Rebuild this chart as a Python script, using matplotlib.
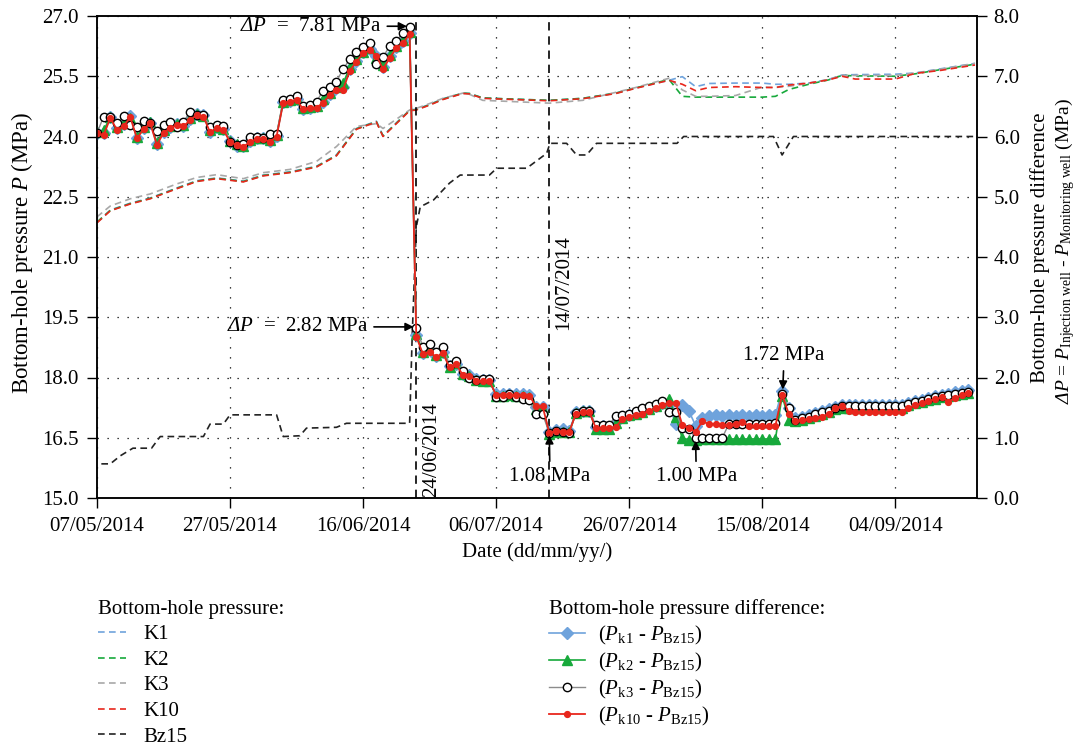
import numpy as np
import matplotlib
matplotlib.use("Agg")
import matplotlib.pyplot as plt
import matplotlib.dates as mdates
from datetime import date

plt.rcParams['font.family'] = ['Liberation Serif', 'DejaVu Serif']
plt.rcParams['mathtext.fontset'] = 'custom'
plt.rcParams['mathtext.rm'] = 'Liberation Serif'
plt.rcParams['mathtext.it'] = 'Liberation Serif:italic'
plt.rcParams['mathtext.bf'] = 'Liberation Serif:bold'
# italic serif under \mathsf, used for the italic capital Delta
plt.rcParams['mathtext.sf'] = 'Liberation Serif:italic'
plt.rcParams['font.size'] = 15

start = date(2014, 5, 7)
t0 = mdates.date2num(start)

# tick labels on the date axis (every 20 days)
tick_days = [0, 20, 40, 60, 80, 100, 120]
tick_labels = ['07/05/2014', '27/05/2014', '16/06/2014', '06/07/2014',
               '26/07/2014', '15/08/2014', '04/09/2014']

# ---- bottom-hole pressure (MPa), dashed lines, left axis ----
p_days = [0, 2, 5, 8, 12, 15, 18, 22, 25, 29, 33, 36, 39, 42, 43, 47, 48, 50, 52,
          55, 56, 58, 61, 68, 73, 78, 81, 86, 88, 90, 92, 96, 100, 102, 104, 107,
          110, 112, 114, 120, 123, 127, 132]
p_k1 = [21.86, 22.17, 22.34, 22.47, 22.72, 22.90, 22.97, 22.89, 23.04, 23.12, 23.26,
        23.54, 24.20, 24.38, 24.02, 24.66, 24.68, 24.80, 24.94, 25.08, 25.07, 24.96,
        24.94, 24.90, 24.95, 25.08, 25.21, 25.40, 25.49, 25.24, 25.32, 25.33, 25.33,
        25.30, 25.30, 25.33, 25.42, 25.53, 25.54, 25.55, 25.58, 25.69, 25.82]
p_k2 = [21.87, 22.16, 22.33, 22.46, 22.71, 22.89, 22.96, 22.88, 23.03, 23.11, 23.25,
        23.53, 24.19, 24.37, 24.01, 24.65, 24.67, 24.79, 24.93, 25.08, 25.07, 24.96,
        24.94, 24.90, 24.95, 25.08, 25.21, 25.42, 25.00, 24.98, 24.98, 24.98, 24.98,
        25.00, 25.17, 25.30, 25.41, 25.52, 25.51, 25.50, 25.56, 25.67, 25.80]
p_k3 = [22.00, 22.27, 22.45, 22.57, 22.82, 22.98, 23.05, 22.95, 23.10, 23.18, 23.38,
        23.75, 24.25, 24.32, 24.20, 24.66, 24.70, 24.82, 24.95, 25.08, 25.05, 24.90,
        24.88, 24.83, 24.90, 25.10, 25.22, 25.45, 25.16, 25.00, 25.00, 25.02, 25.23,
        25.22, 25.25, 25.32, 25.42, 25.52, 25.52, 25.52, 25.58, 25.68, 25.82]
p_k10 = [21.85, 22.15, 22.32, 22.45, 22.70, 22.88, 22.95, 22.87, 23.02, 23.10, 23.24,
         23.52, 24.18, 24.36, 24.00, 24.64, 24.66, 24.78, 24.92, 25.07, 25.06, 24.95,
         24.93, 24.89, 24.94, 25.07, 25.20, 25.40, 25.30, 25.14, 25.22, 25.24, 25.22,
         25.22, 25.28, 25.33, 25.41, 25.50, 25.43, 25.43, 25.57, 25.65, 25.78]

bz_days = [-1, 2, 3.5, 5.4, 8.2, 9.5, 16, 17, 19, 20, 27, 28, 30.5, 31.5, 36, 37.5,
           47, 47.4, 48, 48.6, 50.6, 53, 54.6, 59, 60.1, 64.6, 67.6, 68.1, 70.6,
           72.1, 73.6, 75.1, 87.2, 88.2, 101.7, 103, 104.7, 132]
p_bz15 = [15.85, 15.85, 16.05, 16.24, 16.24, 16.53, 16.53, 16.84, 16.84, 17.07, 17.07,
          16.53, 16.55, 16.74, 16.76, 16.86, 16.86, 19.10, 21.75, 22.25, 22.42, 22.84,
          23.04, 23.04, 23.21, 23.21, 23.58, 23.83, 23.83, 23.54, 23.54, 23.83, 23.83,
          24.00, 24.00, 23.54, 24.00, 24.00]

# ---- daily pressure difference (MPa), right axis, 07/05 .. 15/09 ----
dp_days = list(range(132))
dp_k1 = [6.05, 6.05, 6.33, 6.14, 6.20, 6.34, 5.98, 6.14, 6.23, 5.88,
         6.08, 6.15, 6.21, 6.18, 6.29, 6.37, 6.35, 6.08, 6.15, 6.12,
         5.92, 5.85, 5.84, 5.92, 5.97, 5.97, 5.93, 6.01, 6.57, 6.59,
         6.62, 6.46, 6.48, 6.50, 6.58, 6.71, 6.80, 6.82, 7.12, 7.26,
         7.40, 7.45, 7.33, 7.15, 7.33, 7.49, 7.58, 7.72,
         2.70, 2.41, 2.45, 2.36, 2.42, 2.19, 2.23, 2.05, 2.04, 1.97,
         1.96, 1.96, 1.72, 1.72, 1.73, 1.72, 1.72, 1.71, 1.51, 1.51,
         1.09, 1.13, 1.14, 1.12, 1.42, 1.45, 1.45, 1.18, 1.19, 1.18,
         1.26, 1.34, 1.38, 1.41, 1.44, 1.49, 1.53, 1.57,
         1.55, 1.23, 1.54, 1.44, 1.20, 1.33, 1.36, 1.37, 1.36, 1.37,
         1.36, 1.37, 1.36, 1.37, 1.36, 1.37, 1.38, 1.78, 1.50, 1.33,
         1.35, 1.37, 1.41, 1.44, 1.47, 1.51, 1.55, 1.55, 1.55, 1.55,
         1.55, 1.55, 1.55, 1.55, 1.55, 1.55, 1.58, 1.61, 1.63, 1.66,
         1.69, 1.71, 1.73, 1.76, 1.78, 1.80]
dp_k2 = [6.07, 6.10, 6.32, 6.15, 6.22, 6.30, 6.00, 6.16, 6.24, 5.90,
         6.10, 6.17, 6.20, 6.19, 6.31, 6.38, 6.34, 6.10, 6.16, 6.13,
         5.93, 5.87, 5.85, 5.94, 5.98, 5.97, 5.95, 6.02, 6.58, 6.60,
         6.63, 6.47, 6.49, 6.51, 6.62, 6.73, 6.82, 6.88, 7.15, 7.29,
         7.41, 7.47, 7.31, 7.18, 7.36, 7.51, 7.60, 7.74,
         2.72, 2.42, 2.47, 2.37, 2.43, 2.18, 2.24, 2.06, 2.02, 1.96,
         1.95, 1.95, 1.70, 1.69, 1.71, 1.70, 1.69, 1.67, 1.48, 1.48,
         1.07, 1.10, 1.10, 1.09, 1.41, 1.44, 1.44, 1.15, 1.15, 1.15,
         1.24, 1.33, 1.37, 1.40, 1.43, 1.48, 1.52, 1.58,
         1.64, 1.35, 0.99, 0.97, 0.97, 0.98, 0.98, 0.98, 0.98, 0.98,
         0.98, 0.98, 0.98, 0.98, 0.98, 0.98, 0.98, 1.70, 1.30, 1.28,
         1.30, 1.33, 1.36, 1.40, 1.43, 1.47, 1.50, 1.50, 1.50, 1.50,
         1.50, 1.50, 1.50, 1.50, 1.50, 1.50, 1.54, 1.57, 1.60, 1.62,
         1.65, 1.67, 1.69, 1.71, 1.73, 1.75]
dp_k3 = [6.06, 6.33, 6.33, 6.23, 6.34, 6.19, 6.16, 6.26, 6.22, 6.09,
         6.19, 6.24, 6.16, 6.24, 6.41, 6.36, 6.36, 6.16, 6.19, 6.18,
         5.91, 5.86, 5.88, 6.00, 6.00, 5.98, 6.04, 6.04, 6.61, 6.63,
         6.67, 6.50, 6.52, 6.58, 6.76, 6.82, 6.91, 7.12, 7.28, 7.40,
         7.49, 7.55, 7.20, 7.32, 7.50, 7.59, 7.72, 7.81,
         2.82, 2.51, 2.56, 2.43, 2.51, 2.21, 2.28, 2.10, 1.99, 1.96,
         1.97, 1.97, 1.68, 1.68, 1.73, 1.68, 1.64, 1.62, 1.39, 1.39,
         1.08, 1.11, 1.09, 1.08, 1.41, 1.45, 1.45, 1.21, 1.21, 1.21,
         1.36, 1.37, 1.40, 1.45, 1.49, 1.53, 1.56, 1.61,
         1.42, 1.42, 1.16, 1.14, 1.00, 1.00, 1.00, 1.00, 1.00, 1.23,
         1.23, 1.23, 1.23, 1.23, 1.23, 1.23, 1.24, 1.72, 1.49, 1.30,
         1.32, 1.35, 1.39, 1.42, 1.45, 1.49, 1.52, 1.52, 1.52, 1.52,
         1.52, 1.52, 1.52, 1.52, 1.52, 1.52, 1.56, 1.59, 1.61, 1.64,
         1.67, 1.69, 1.71, 1.73, 1.75, 1.76]
dp_k10 = [6.06, 6.02, 6.31, 6.11, 6.17, 6.32, 5.97, 6.12, 6.22, 5.86,
          6.06, 6.14, 6.19, 6.17, 6.27, 6.36, 6.33, 6.07, 6.14, 6.11,
          5.91, 5.86, 5.83, 5.91, 5.96, 5.96, 5.91, 6.00, 6.56, 6.58,
          6.61, 6.45, 6.48, 6.48, 6.56, 6.69, 6.78, 6.78, 7.09, 7.24,
          7.38, 7.43, 7.34, 7.12, 7.30, 7.47, 7.55, 7.70,
          2.68, 2.39, 2.43, 2.34, 2.40, 2.17, 2.22, 2.04, 2.03, 1.95,
          1.94, 1.94, 1.71, 1.71, 1.71, 1.71, 1.71, 1.70, 1.52, 1.52,
          1.08, 1.12, 1.10, 1.10, 1.40, 1.43, 1.43, 1.16, 1.16, 1.16,
          1.18, 1.31, 1.35, 1.38, 1.40, 1.45, 1.49, 1.54,
          1.57, 1.58, 1.21, 1.16, 1.10, 1.27, 1.23, 1.23, 1.21, 1.21,
          1.23, 1.26, 1.20, 1.20, 1.20, 1.20, 1.20, 1.71, 1.40, 1.28,
          1.30, 1.31, 1.32, 1.35, 1.40, 1.49, 1.53, 1.45, 1.42, 1.42,
          1.42, 1.42, 1.42, 1.42, 1.42, 1.42, 1.49, 1.54, 1.57, 1.61,
          1.64, 1.67, 1.60, 1.66, 1.71, 1.75]

c_blue = '#6FA3DC'
c_green = '#17A93B'
c_gray = '#A8A8A8'
c_red = '#E8261C'
dash = (0, (4, 2.6))
dP = r'$\mathsf{\Delta}P$'


def xd(days):
    return t0 + np.asarray(days, dtype=float)


fig = plt.figure(figsize=(10.79, 7.48), dpi=100)
ax = fig.add_axes([97 / 1079, 1 - 498 / 748, 880 / 1079, 482 / 748])
ax2 = ax.twinx()

# pressures
l_k1, = ax.plot(xd(p_days), p_k1, color=c_blue, ls=dash, lw=1.2, label='K1')
l_k2, = ax.plot(xd(p_days), p_k2, color=c_green, ls=dash, lw=1.2, label='K2')
l_k3, = ax.plot(xd(p_days), p_k3, color=c_gray, ls=dash, lw=1.2, label='K3')
l_k10, = ax.plot(xd(p_days), p_k10, color=c_red, ls=dash, lw=1.2, label='K10')
l_bz, = ax.plot(xd(bz_days), p_bz15, color='#222222', ls=dash, lw=1.2, label='Bz15')

# marked event dates
for d in [48, 68]:
    ax.axvline(t0 + d - 0.1, color='black', ls=(0, (5, 3.5)), lw=1.2)

# pressure differences
m_k1, = ax2.plot(xd(dp_days), dp_k1, color=c_blue, lw=1.2, marker='D', ms=6,
                 mec=c_blue, label=r'$(P_{\rm k1}$ - $P_{\rm Bz15})$')
m_k2, = ax2.plot(xd(dp_days), dp_k2, color=c_green, lw=1.2, marker='^', ms=6.5,
                 mec=c_green, label=r'$(P_{\rm k2}$ - $P_{\rm Bz15})$')
m_k3, = ax2.plot(xd(dp_days), dp_k3, color='#8C8C8C', lw=1.0, marker='o', ms=6,
                 mfc='white', mec='black', mew=1.0, label=r'$(P_{\rm k3}$ - $P_{\rm Bz15})$')
m_k10, = ax2.plot(xd(dp_days), dp_k10, color=c_red, lw=1.3, marker='o', ms=4.2,
                  mec=c_red, label=r'$(P_{\rm k10}$ - $P_{\rm Bz15})$')

ax.set_xlim(t0, t0 + 132.3)
ax.set_xticks(xd(tick_days))
ax.set_xticklabels(tick_labels)
ax.set_ylim(15, 27)
ax.set_yticks(np.arange(15, 27.01, 1.5))
ax.set_yticklabels(['%.1f' % v for v in np.arange(15, 27.01, 1.5)])
ax2.set_ylim(0, 8)
ax2.set_yticks(np.arange(0, 8.01, 1.0))
ax2.set_yticklabels(['%.1f' % v for v in np.arange(0, 8.01, 1.0)])

ax.grid(True, color='black', ls=(0, (1, 7)), lw=0.9)
for a in (ax, ax2):
    a.tick_params(direction='out', length=7, width=1.0, labelsize=15)
    for s in a.spines.values():
        s.set_linewidth(1.1)
ax.tick_params(axis='x', pad=7)
ax.tick_params(axis='y', pad=6)
ax2.tick_params(axis='y', pad=5)

# annotations
arrow = dict(arrowstyle='-|>', color='black', lw=1.2, mutation_scale=12, shrinkA=2, shrinkB=0)
ax2.annotate(dP + '  =  7.81 MPa', xy=(t0 + 46.6, 7.83), xytext=(t0 + 42.8, 7.83),
             ha='right', va='center', fontsize=15, arrowprops=arrow)
ax2.annotate(dP + '  =  2.82 MPa', xy=(t0 + 47.6, 2.84), xytext=(t0 + 40.8, 2.84),
             ha='right', va='center', fontsize=15, arrowprops=arrow)
ax2.annotate('1.08 MPa', xy=(t0 + 68, 1.04), xytext=(t0 + 68.1, 0.36),
             ha='center', va='center', fontsize=15, arrowprops=arrow)
ax2.annotate('1.00 MPa', xy=(t0 + 90, 0.95), xytext=(t0 + 90.1, 0.36),
             ha='center', va='center', fontsize=15, arrowprops=arrow)
ax2.annotate('1.72 MPa', xy=(t0 + 103.1, 1.80), xytext=(t0 + 103.3, 2.36),
             ha='center', va='center', fontsize=15, arrowprops=arrow)
ax2.text(t0 + 50.3, 0.80, '24/06/2014', rotation=90, ha='center', va='center', fontsize=15)
ax2.text(t0 + 70.15, 3.57, '14/07/2014', rotation=90, ha='center', va='center', fontsize=15)

# axis titles
fig.text(22 / 1079, 1 - 253 / 748, r'Bottom-hole pressure $P$ (MPa)', rotation=90,
         ha='center', va='center', fontsize=16.5)
fig.text(537 / 1079, 1 - 552 / 748, 'Date (dd/mm/yy/)', ha='center', va='center', fontsize=15)
fig.text(1040 / 1079, 1 - 248 / 748, 'Bottom-hole pressure difference', rotation=90,
         ha='center', va='center', fontsize=15)
fig.text(1065 / 1079, 1 - 404 / 748,
         dP + r' = $P_{\rm Injection\ well}$ - $P_{\rm Monitoring\ well}$ (MPa)',
         rotation=90, ha='center', va='bottom', fontsize=14)

# legends
leg1 = fig.legend(handles=[l_k1, l_k2, l_k3, l_k10, l_bz], loc='upper left',
                  bbox_to_anchor=(83 / 1079, 1 - 585 / 748), frameon=False,
                  title='Bottom-hole pressure:', alignment='left', fontsize=15,
                  title_fontsize=15, handlelength=1.35, handletextpad=0.85,
                  labelspacing=0.29, borderpad=0.2)
leg2 = fig.legend(handles=[m_k1, m_k2, m_k3, m_k10], loc='upper left',
                  bbox_to_anchor=(534 / 1079, 1 - 585 / 748), frameon=False,
                  title='Bottom-hole pressure difference:', alignment='left', fontsize=15,
                  title_fontsize=15, handlelength=1.75, handletextpad=0.6,
                  labelspacing=0.2, borderpad=0.2)

fig.savefig('out.png', dpi=100)
